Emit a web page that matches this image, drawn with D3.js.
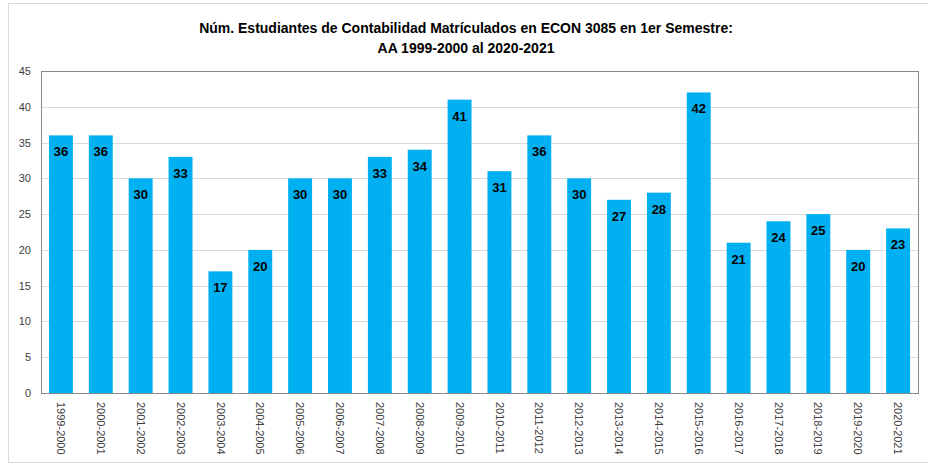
<!DOCTYPE html>
<html>
<head>
<meta charset="utf-8">
<script src="https://cdn.jsdelivr.net/npm/d3@7"></script>
<style>
  body { margin: 0; background: #fff; }
  svg { display: block; font-family: "Liberation Sans", Arial, sans-serif; }
</style>
</head>
<body>
<svg id="chart"></svg>
<script>
const years = ['1999-2000', '2000-2001', '2001-2002', '2002-2003', '2003-2004', '2004-2005',
  '2005-2006', '2006-2007', '2007-2008', '2008-2009', '2009-2010', '2010-2011', '2011-2012',
  '2012-2013', '2013-2014', '2014-2015', '2015-2016', '2016-2017', '2017-2018', '2018-2019',
  '2019-2020', '2020-2021'];
const students = [36, 36, 30, 33, 17, 20, 30, 30, 33, 34, 41, 31, 36, 30, 27, 28, 42, 21, 24, 25, 20, 23];
const yTicks = [0, 5, 10, 15, 20, 25, 30, 35, 40, 45];
const titleLines = ['Núm. Estudiantes de Contabilidad Matrículados en ECON 3085 en 1er Semestre:',
  'AA 1999-2000 al 2020-2021'];

const W = 928, H = 466;
const m = { top: 71, right: 10, bottom: 73, left: 41 };

const svg = d3.select('#chart').attr('width', W).attr('height', H);

// outer chart frame
svg.append('rect')
  .attr('x', 8.5).attr('y', 3.5)
  .attr('width', W - 8).attr('height', 459)
  .attr('fill', 'none').attr('stroke', '#d9d9d9');

const x = d3.scaleBand()
  .domain(years)
  .range([m.left, W - m.right])
  .paddingInner(0.4)
  .paddingOuter(0.2);
const y = d3.scaleLinear()
  .domain([0, 45])
  .range([H - m.bottom, m.top]);

// gridlines
svg.append('g')
  .selectAll('line')
  .data(yTicks)
  .join('line')
    .attr('x1', m.left).attr('x2', W - m.right)
    .attr('y1', d => Math.round(y(d)) + 0.5).attr('y2', d => Math.round(y(d)) + 0.5)
    .attr('stroke', '#d9d9d9');

// bars
svg.append('g')
  .selectAll('rect')
  .data(students)
  .join('rect')
    .attr('x', (_, i) => x(years[i]))
    .attr('y', d => y(d))
    .attr('width', x.bandwidth())
    .attr('height', d => y(0) - y(d))
    .attr('fill', '#00b0f0');

// value labels
svg.append('g')
  .selectAll('text')
  .data(students)
  .join('text')
    .attr('x', (_, i) => x(years[i]) + x.bandwidth() / 2)
    .attr('y', d => y(d) + 21)
    .attr('text-anchor', 'middle')
    .attr('font-size', 13)
    .attr('font-weight', 'bold')
    .attr('fill', '#000')
    .text(d => d);

// plot area border
svg.append('rect')
  .attr('x', m.left + 0.5).attr('y', m.top + 0.5)
  .attr('width', W - m.right - m.left).attr('height', H - m.bottom - m.top)
  .attr('fill', 'none').attr('stroke', '#898989');

// y axis
const yAxis = d3.axisLeft(y).tickValues(yTicks).tickSize(0).tickPadding(10);
svg.append('g')
  .attr('transform', `translate(${m.left},0)`)
  .call(yAxis)
  .call(g => g.select('.domain').remove())
  .call(g => g.selectAll('text').attr('font-size', 11).attr('fill', '#404040')
    .attr('font-family', '"Liberation Sans", Arial, sans-serif'));

// x axis
const xAxis = d3.axisBottom(x).tickSize(0);
svg.append('g')
  .attr('transform', `translate(0,${H - m.bottom})`)
  .call(xAxis)
  .call(g => g.select('.domain').remove())
  .call(g => g.selectAll('text')
    .attr('transform', 'rotate(90)')
    .attr('x', 9).attr('y', 0).attr('dy', '0.35em')
    .attr('text-anchor', 'start')
    .attr('font-size', 11).attr('fill', '#404040')
    .attr('font-family', '"Liberation Sans", Arial, sans-serif'));

// title
svg.append('g')
  .selectAll('text')
  .data(titleLines)
  .join('text')
    .attr('x', 466)
    .attr('y', (_, i) => 33 + i * 20)
    .attr('text-anchor', 'middle')
    .attr('font-size', 14)
    .attr('font-weight', 'bold')
    .attr('fill', '#000')
    .text(d => d);
</script>
</body>
</html>
